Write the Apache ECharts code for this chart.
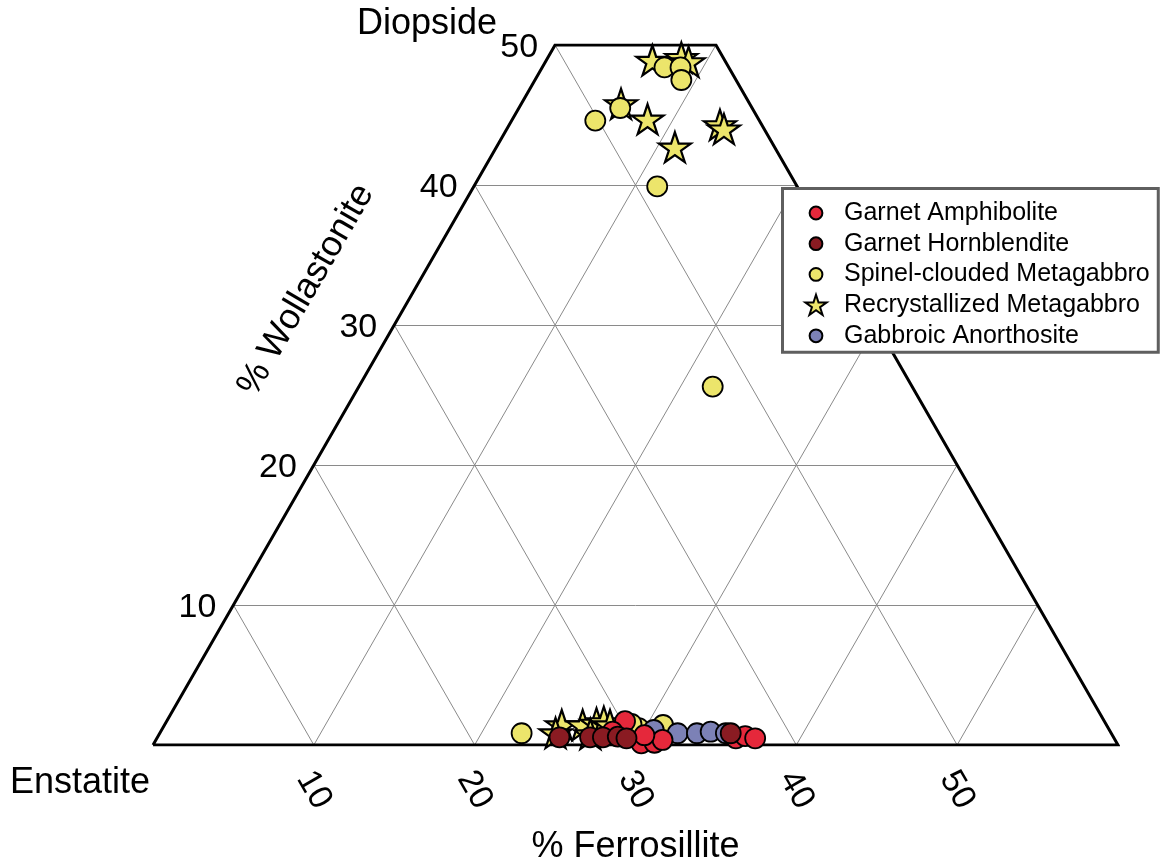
<!DOCTYPE html>
<html><head><meta charset="utf-8">
<script src="https://cdn.jsdelivr.net/npm/echarts@6/dist/echarts.min.js"></script>
<style>html,body{margin:0;padding:0;background:#fff}#c{width:1162px;height:864px}</style>
</head><body><div id="c"></div>
<script>
// ---- tick labels ----
const fsTicks = [10, 20, 30, 40, 50];
const woTicks = [10, 20, 30, 40, 50];
// quadrilateral outline (Fs, Wo)
const outlineFs = [0, 0, 10, 60, 0];
const outlineWo = [0, 50, 50, 0, 0];

// ---- data: % Ferrosillite (Fs) and % Wollastonite (Wo) ----
const garnetAmphFs = [28.5, 28.1, 30.3, 31.1, 31.5, 30.2, 36.0, 36.5, 37.2];
const garnetAmphWo = [1.7, 0.95, 0.12, 0.16, 0.36, 0.7, 0.48, 0.64, 0.48];

const garnetHornFs = [25.0, 26.9, 27.7, 28.6, 29.2, 35.5];
const garnetHornWo = [0.55, 0.55, 0.55, 0.6, 0.48, 0.84];

const spinelFs = [7.6, 8.6, 9.1, 6.3, 5.2, 11.4, 22.0, 22.5, 29.6, 31.0, 29.0];
const spinelWo = [48.4, 48.4, 47.5, 45.5, 44.6, 39.9, 25.6, 0.84, 1.2, 1.43, 1.5];

const recrystFs = [6.6, 8.3, 8.9, 6.2, 8.4, 13.1, 13.5, 11.1, 24.7, 26.0, 26.8, 27.2, 27.7, 24.6, 26.8];
const recrystWo = [48.9, 49.1, 48.8, 45.8, 44.7, 44.3, 44.0, 42.7, 1.43, 1.43, 1.55, 1.66, 1.43, 0.86, 0.79];

const gabbroFs = [30.6, 32.2, 33.4, 34.2, 35.2];
const gabbroWo = [1.07, 0.84, 0.84, 0.95, 0.84];

// ternary (Fs, Wo) -> cartesian data coordinates
function tern(fs, wo) { return [fs + wo / 2, wo]; }
function pts(fsArr, woArr) { return fsArr.map((f, i) => tern(f, woArr[i])); }

// grid lattice lines (in ternary units)
const gridLines = [];
woTicks.slice(0, 4).forEach(w => gridLines.push({ coords: [tern(0, w), tern(60 - w, w)] }));
fsTicks.forEach(f => gridLines.push({ coords: [tern(f, 0), tern(f, Math.min(50, 60 - f))] }));
fsTicks.forEach(s => gridLines.push({ coords: [tern(s, 0), tern(0, s)] }));

const FONT = '"Liberation Sans", Arial, Helvetica, sans-serif';

function starPts(cx, cy, R) {
  const p = [];
  for (let k = 0; k < 10; k++) {
    const a = -Math.PI / 2 + k * Math.PI / 5;
    const r = k % 2 === 0 ? R : R * 0.382;
    p.push((k === 0 ? 'M' : 'L') + (cx + r * Math.cos(a)).toFixed(3) + ',' + (cy + r * Math.sin(a)).toFixed(3));
  }
  return p.join(' ') + ' Z';
}
const STAR = 'path://' + starPts(0, 0, 1);
// legend icons: invisible 34x22 bounding box so the glyph sits left, like the reference
const LEG_STAR = 'path://M0,0 M34,22 ' + starPts(11, 11.8, 11.2);
const LEG_CIRCLE = 'path://M0,0 M34,22 M4.6,11 A6.4,6.4 0 1 1 17.4,11 A6.4,6.4 0 1 1 4.6,11 Z';

const colRed = '#e5283b', colDark = '#8a1b22', colYel = '#ece56b', colBlue = '#7c81b6';

function circleSeries(name, data, color) {
  return { name, type: 'scatter', data, symbol: 'circle', symbolSize: 20,
    itemStyle: { color, borderColor: '#000', borderWidth: 1.8, opacity: 1 }, z: 5 };
}

const chart = echarts.init(document.getElementById('c'), null, { renderer: 'canvas' });
chart.setOption({
  animation: false,
  backgroundColor: '#fff',
  grid: { left: 153, right: 44, top: 45, bottom: 119, outerBoundsMode: 'none', containLabel: false },
  xAxis: {
    type: 'value', min: 0, max: 60, interval: 10,
    axisLine: { show: false }, axisTick: { show: false }, splitLine: { show: false },
    axisLabel: {
      formatter: v => fsTicks.includes(v) ? String(v) : '',
      rotate: -60, align: 'center', verticalAlign: 'middle', margin: 45,
      fontSize: 34, fontFamily: FONT, color: '#000', opacity: 1
    },
    name: '% Ferrosillite', nameLocation: 'middle', nameGap: 84, nameMoveOverlap: false,
    nameTextStyle: { fontSize: 36, fontFamily: FONT, color: '#000' }
  },
  yAxis: { type: 'value', min: 0, max: 50, show: false },
  legend: {
    orient: 'vertical', left: 782.5, top: 188.5,
    padding: [12, 8.5, 4, 21.5],
    itemWidth: 34, itemHeight: 22, itemGap: 5.7,
    borderColor: '#5f5f5f', borderWidth: 3, backgroundColor: '#fff',
    textStyle: { fontSize: 25, fontFamily: FONT, color: '#000' },
    data: [
      { name: 'Garnet Amphibolite', icon: LEG_CIRCLE },
      { name: 'Garnet Hornblendite', icon: LEG_CIRCLE },
      { name: 'Spinel-clouded Metagabbro', icon: LEG_CIRCLE },
      { name: 'Recrystallized Metagabbro', icon: LEG_STAR },
      { name: 'Gabbroic Anorthosite', icon: LEG_CIRCLE }
    ],
    selectedMode: false
  },
  graphic: [
    { type: 'text', x: 497, y: 24, style: { text: 'Diopside', fontSize: 36, fontFamily: FONT, fill: '#000', align: 'right', verticalAlign: 'middle' } },
    { type: 'text', x: 10, y: 783, style: { text: 'Enstatite', fontSize: 36, fontFamily: FONT, fill: '#000', align: 'left', verticalAlign: 'middle' } },
    { type: 'text', x: 306, y: 290, rotation: Math.PI / 3, style: { text: '% Wollastonite', fontSize: 36, fontFamily: FONT, fill: '#000', align: 'center', verticalAlign: 'middle' } }
  ],
  series: [
    { name: 'grid', type: 'lines', coordinateSystem: 'cartesian2d', silent: true, z: 1,
      lineStyle: { color: '#8a8a8a', width: 1, opacity: 1 }, data: gridLines },
    { name: 'outline', type: 'line', data: pts(outlineFs, outlineWo), symbol: 'none', silent: true, z: 2,
      lineStyle: { color: '#000', width: 3, join: 'miter' } },
    { name: 'woLabels', type: 'scatter', silent: true, symbolSize: 0, z: 2,
      itemStyle: { opacity: 1 },
      data: woTicks.map(w => tern(0, w)),
      label: { show: true, position: 'left', distance: 17, offset: [0, 3], formatter: p => String(p.value[1]),
        fontSize: 34, fontFamily: FONT, color: '#000', opacity: 1 } },
    { name: 'Recrystallized Metagabbro', type: 'scatter', data: pts(recrystFs, recrystWo),
      symbol: STAR, symbolSize: [32, 30], z: 4,
      itemStyle: { color: colYel, borderColor: '#000', borderWidth: 2.2, opacity: 1 } },
    circleSeries('Spinel-clouded Metagabbro', pts(spinelFs, spinelWo), colYel),
    circleSeries('Gabbroic Anorthosite', pts(gabbroFs, gabbroWo), colBlue),
    circleSeries('Garnet Amphibolite', pts(garnetAmphFs, garnetAmphWo), colRed),
    circleSeries('Garnet Hornblendite', pts(garnetHornFs, garnetHornWo), colDark)
  ]
});
</script></body></html>
